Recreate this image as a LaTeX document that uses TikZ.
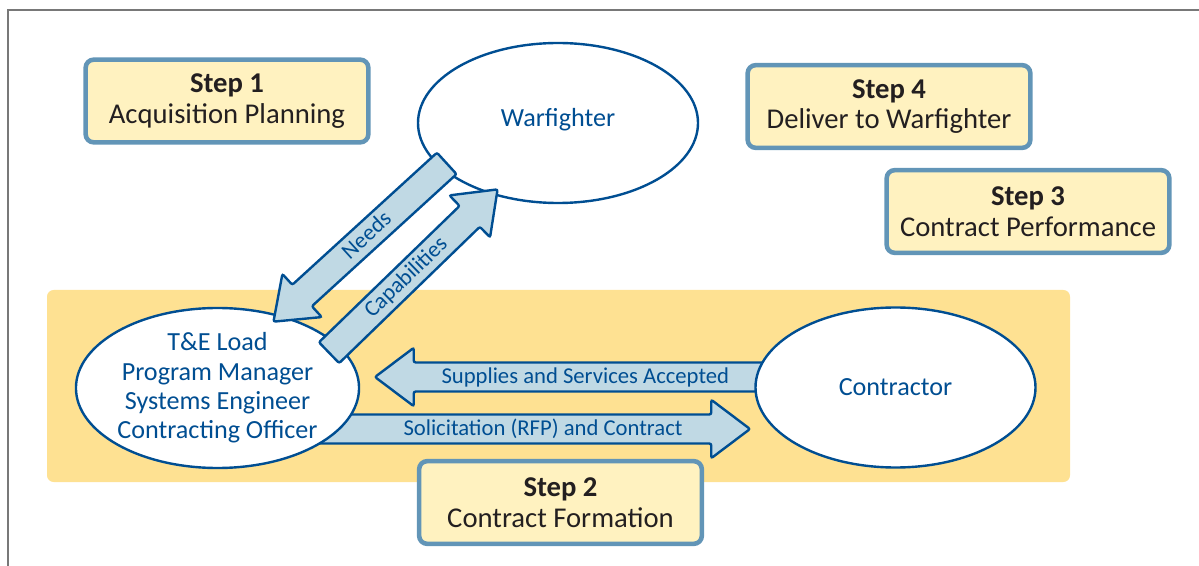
\documentclass[tikz,border=0pt]{standalone}
\usepackage{fontspec}
\setmainfont{Carlito}
\usetikzlibrary{shapes.geometric}
\usetikzlibrary{shapes.arrows}

\definecolor{stepline}{RGB}{98,149,183}
\definecolor{stepfill}{RGB}{255,242,192}
\definecolor{bandfill}{RGB}{254,225,146}
\definecolor{navy}{RGB}{0,78,146}
\definecolor{arrowfill}{RGB}{192,217,228}
\definecolor{steptext}{RGB}{35,31,32}
\definecolor{framegray}{RGB}{120,120,120}

\tikzset{
  stepbox/.style={draw=stepline, line width=3.4pt, fill=stepfill, rounded corners=6pt,
    minimum width=212pt, minimum height=62pt, align=center, text=steptext,
    font=\fontsize{21.5}{23}\selectfont},
  party/.style={ellipse, draw=navy, line width=1.8pt, fill=white, minimum width=210pt,
    minimum height=120pt, align=center, text=navy, inner sep=0pt,
    font=\fontsize{19.6}{22}\selectfont},
  flowarrow/.style={single arrow, draw=navy, line width=1.8pt, fill=arrowfill, text=navy,
    rounded corners=1.5pt, text height=14.5pt, text depth=5.5pt, inner xsep=0pt, inner ysep=0pt,
    single arrow head extend=11pt, single arrow tip angle=74, anchor=tip,
    font=\fontsize{17}{18}\selectfont},
}

\begin{document}
\begin{tikzpicture}[x=0.75pt,y=0.75pt,yscale=-1,xscale=1]
\useasboundingbox (0,0) rectangle (1199,566);

%Frame
\draw [framegray, line width=1.1pt] (8,566) -- (8,10) -- (1199,10) ;

% Step boxes
\node [stepbox] (step1) at (227,101) {\textbf{Step 1}\\Acquisition Planning};
\node [stepbox] (step4) at (889,106.5) {\textbf{Step 4}\\Deliver to Warfighter};
\node [stepbox] (step3) at (1028,211.5) {\textbf{Step 3}\\Contract Performance};

%Band
\fill [bandfill, rounded corners=5pt] (47,290) rectangle (1070,482) ;

% Arrow ends
\coordinate (suptip) at (373,377);
\coordinate (soltip) at (752,429);
\coordinate (needtip) at (272,323);
\coordinate (captip) at (499,188);

% Horizontal arrows
\node [flowarrow, shape border rotate=180, minimum height=292pt] (supplies) at (suptip) {\hspace*{9pt}Supplies and Services Accepted};
\node [flowarrow, minimum height=330pt] (solicit) at (soltip) {\hspace*{34pt}Solicitation (RFP) and Contract};

% Ellipses
\node [party] (pm) at (217.5,388) {T\&E Load\\Program Manager\\Systems Engineer\\Contracting Officer};
\node [party] (contractor) at (895.5,387.5) {Contractor};
\node [party, text depth=8pt] (warfighter) at (558,123) {Warfighter};

% Diagonal arrows
\node [flowarrow, shape border rotate=180, rotate=42.4, minimum height=176pt] (needs) at (needtip) {Needs};
\node [flowarrow, rotate=44.1, minimum height=176pt] (capab) at (captip) {Capabilities};

\node [stepbox] (step2) at (560.5,502.5) {\textbf{Step 2}\\Contract Formation};

\end{tikzpicture}
\end{document}
